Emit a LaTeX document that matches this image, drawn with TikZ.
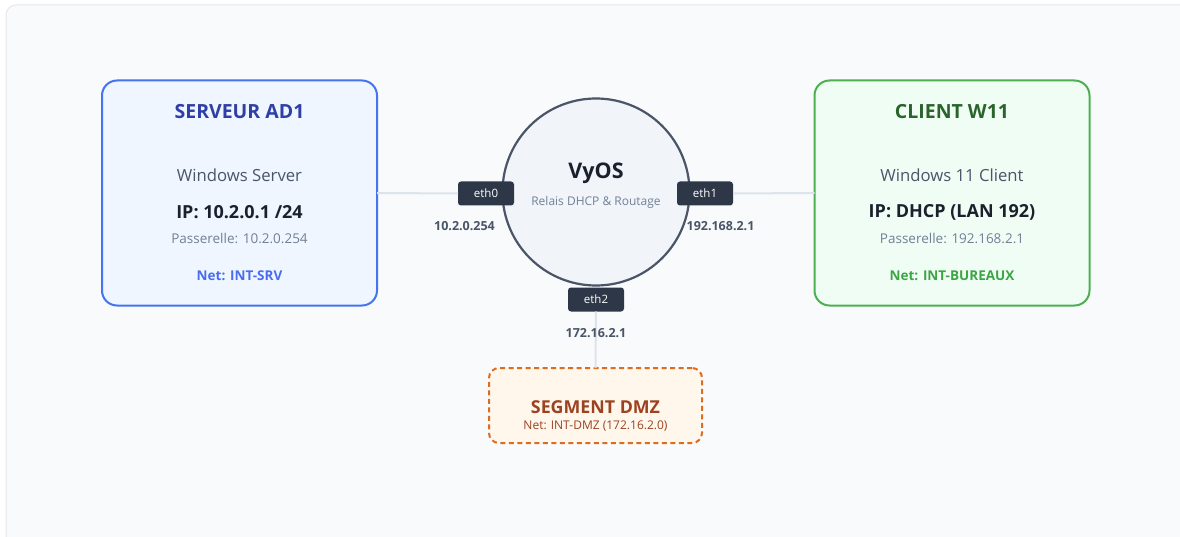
\documentclass[tikz,border=0pt]{standalone}
\usepackage{fontspec}
\setmainfont{Open Sans}
\definecolor{panelfill}{HTML}{F8FAFC}
\definecolor{panelline}{HTML}{E5E7EB}
\definecolor{blueline}{HTML}{4474EE}
\definecolor{bluefill}{HTML}{EFF6FF}
\definecolor{bluetitle}{HTML}{2F3FA6}
\definecolor{bluenet}{HTML}{4A6CF0}
\definecolor{greenline}{HTML}{4CAF50}
\definecolor{greenfill}{HTML}{F0FDF4}
\definecolor{greentitle}{HTML}{2A632C}
\definecolor{greennet}{HTML}{3DA544}
\definecolor{subtext}{HTML}{4A5568}
\definecolor{iptext}{HTML}{1A202C}
\definecolor{gwtext}{HTML}{718096}
\definecolor{circline}{HTML}{4A5568}
\definecolor{circfill}{HTML}{F1F5F9}
\definecolor{badge}{HTML}{2D3748}
\definecolor{wire}{HTML}{DDE3EA}
\definecolor{dmzline}{HTML}{DD6B20}
\definecolor{dmzfill}{HTML}{FFF7EC}
\definecolor{dmztext}{HTML}{9C4221}
\tikzset{
  every node/.style={inner sep=0pt, outer sep=0pt},
  hostbox/.style={rounded corners=15pt, line width=2pt, minimum width=275pt, minimum height=225pt},
  ethbadge/.style={fill=badge, rounded corners=3pt, minimum width=56pt, minimum height=24pt, text=white, font=\fontsize{11.5}{13}\selectfont},
  iplabel/.style={text=subtext, font=\fontsize{12.5}{14}\selectfont\bfseries},
  wireline/.style={draw=wire, line width=2pt},
  titlefont/.style={font=\fontsize{19.5}{23}\selectfont\bfseries},
  osfont/.style={text=subtext, font=\fontsize{16.7}{19}\selectfont},
  ipfont/.style={text=iptext, font=\fontsize{18}{21}\selectfont\bfseries},
  gwfont/.style={text=gwtext, font=\fontsize{13.5}{16}\selectfont},
  netfont/.style={font=\fontsize{13.5}{16}\selectfont\bfseries}
}
\begin{document}
\begin{tikzpicture}[x=1pt,y=-1pt]
\useasboundingbox (0,0) rectangle (1180,537);
\fill[white] (0,0) rectangle (1180,537);
\path[fill=panelfill, draw=panelline, line width=1pt, rounded corners=10pt] (6,5) rectangle (1195,550);

% nodes
\node[hostbox, draw=blueline, fill=bluefill] (ad1) at (239.5,193) {};
\node[hostbox, draw=greenline, fill=greenfill] (w11) at (952,193) {};
\node[circle, draw=circline, fill=circfill, line width=2.2pt, minimum size=187pt] (vyos) at (596,192) {};
\node[draw=dmzline, fill=dmzfill, dash pattern=on 5pt off 3.5pt, line width=2pt, rounded corners=10pt, minimum width=213pt, minimum height=75pt] (dmz) at (595.5,405.5) {};

\node[ethbadge] (eth0) at (486,193.5) {eth0};
\node[ethbadge] (eth1) at (705,193.5) {eth1};
\node[ethbadge] (eth2) at (596,299.5) {eth2};

\draw[wireline] (ad1.east) -- (eth0.west);
\draw[wireline] (eth1.east) -- (w11.west);
\draw[wireline] (eth2.south) -- (dmz.north);

% left box text
\node[titlefont, text=bluetitle] (ad1t) at (239.5,111.5) {SERVEUR AD1};
\node[osfont] (ad1os) at (239.5,175.5) {Windows Server};
\node[ipfont] (ad1ip) at (239.5,212) {IP: 10.2.0.1 /24};
\node[gwfont] (ad1gw) at (239.5,238.5) {Passerelle: 10.2.0.254};
\node[netfont, text=bluenet] (ad1net) at (239.5,275.5) {Net: INT-SRV};

% right box text
\node[titlefont, text=greentitle] (w11t) at (952,111.5) {CLIENT W11};
\node[osfont] (w11os) at (952,175.5) {Windows 11 Client};
\node[ipfont] (w11ip) at (952,212) {IP: DHCP (LAN 192)};
\node[gwfont] (w11gw) at (952,238.5) {Passerelle: 192.168.2.1};
\node[netfont, text=greennet] (w11net) at (952,275.5) {Net: INT-BUREAUX};

% router text
\node[text=iptext, font=\fontsize{21.5}{25}\selectfont\bfseries] (vyost) at (596,173) {VyOS};
\node[text=gwtext, font=\fontsize{12}{14}\selectfont] (vyossub) at (596,202) {Relais DHCP \& Routage};

% ip labels
\node[iplabel] (ip0) at (464.5,226) {10.2.0.254};
\node[iplabel] (ip1) at (720.5,226) {192.168.2.1};
\node[iplabel] (ip2) at (596,333) {172.16.2.1};

% dmz text
\node[text=dmztext, font=\fontsize{17.8}{21}\selectfont\bfseries] (dmzt) at (595.5,407) {SEGMENT DMZ};
\node[text=dmztext, font=\fontsize{12}{14}\selectfont] (dmznet) at (595.5,426) {Net: INT-DMZ (172.16.2.0)};
\end{tikzpicture}
\end{document}
